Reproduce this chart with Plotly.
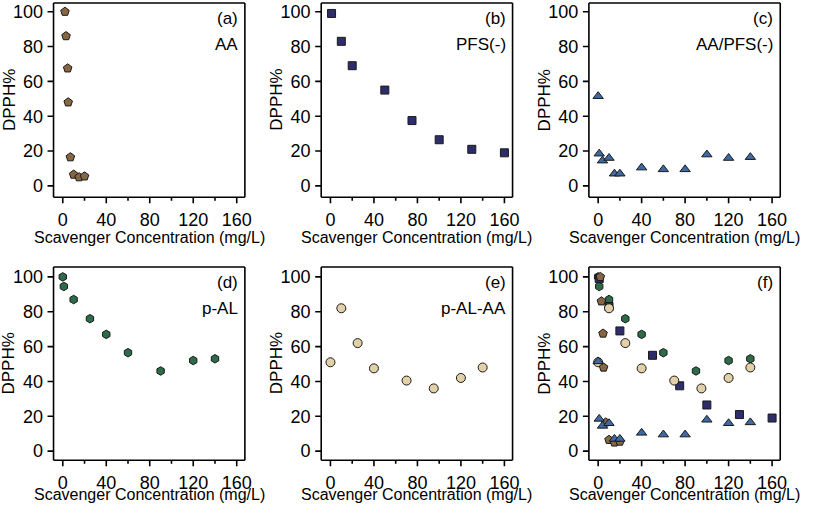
import plotly.graph_objects as go

# ---- data ----
aa_x = [2, 3, 4.5, 5, 7, 10, 15, 20]
aa_y = [100, 86, 67.5, 48, 16.5, 6.5, 5, 5.5]

pfs_x = [1, 10, 20, 50, 75, 100, 130, 160]
pfs_y = [99, 83, 69, 55, 37.5, 26.5, 21, 19]

aapfs_x = [0, 1, 4, 10, 15, 20, 40, 60, 80, 100, 120, 140]
aapfs_y = [51.5, 18.5, 14.5, 16, 7, 7, 10.5, 9.5, 9.5, 18, 16, 16.5]

pal_x = [0, 1, 10, 25, 40, 60, 90, 120, 140]
pal_y = [100, 94.5, 87, 76, 67, 56.5, 46, 52, 53]

palaa_x = [0, 10, 25, 40, 70, 95, 120, 140]
palaa_y = [51, 82, 62, 47.5, 40.5, 36, 42, 48]

panel_tags = ["(a)", "(b)", "(c)", "(d)", "(e)", "(f)"]
panel_names = ["AA", "PFS(-)", "AA/PFS(-)", "p-AL", "p-AL-AA", ""]
x_ticks = [0, 40, 80, 120, 160]
x_minor_ticks = [20, 60, 100, 140]
y_ticks = [0, 20, 40, 60, 80, 100]
x_title = "Scavenger Concentration (mg/L)"
y_title = "DPPH%"

FONT = "Arial, Liberation Sans, sans-serif"
W, H = 815, 513

styles = {
    "AA": dict(symbol="pentagon", color="#876642", size=9),
    "PFS": dict(symbol="square", color="#2E2D6B", size=8),
    "AAPFS": dict(symbol="triangle-up", color="#3F69A3", size=9),
    "PAL": dict(symbol="hexagon", color="#2E6B48", size=8.5),
    "PALAA": dict(symbol="circle", color="#E2D1A8", size=9),
}
series = {
    "AA": (aa_x, aa_y),
    "PFS": (pfs_x, pfs_y),
    "AAPFS": (aapfs_x, aapfs_y),
    "PAL": (pal_x, pal_y),
    "PALAA": (palaa_x, palaa_y),
}

cols = [(54, 247), (324, 517), (594, 787)]
rows = [(2, 197), (267, 461)]
yranges = [[-6.5, 105], [-5.2, 105.7]]
xrange_ = [-8.5, 167.5]
title_gap = [40, 34]

HW = 0.8          # half width (px) of frame/tick bars
TICK_MAJOR, TICK_MINOR = 6, 3.5
INK = "black"

fig = go.Figure()
panel_series = [["AA"], ["PFS"], ["AAPFS"], ["PAL"], ["PALAA"],
                ["PAL", "PFS", "PALAA", "AA", "AAPFS"]]

annotations, shapes = [], []

def bar(**kw):
    d = dict(type="rect", fillcolor=INK, line=dict(width=0), layer="above")
    d.update(kw)
    shapes.append(d)

for i in range(6):
    r, c = divmod(i, 3)
    idx = i + 1
    x0, x1 = cols[c]
    y0, y1 = rows[r]
    suffix = "" if idx == 1 else str(idx)
    xa, ya = "x" + suffix, "y" + suffix
    xd, yd = xa + " domain", ya + " domain"

    for key in panel_series[i]:
        x, y = series[key]
        s = styles[key]
        fig.add_trace(go.Scatter(
            x=x, y=y, mode="markers", xaxis=xa, yaxis=ya,
            marker=dict(symbol=s["symbol"], color=s["color"], size=s["size"],
                        line=dict(color="#1a1a1a", width=1)),
            showlegend=False, hoverinfo="skip"))

    fig.update_layout(**{
        "xaxis" + suffix: dict(
            domain=[x0 / W, x1 / W], range=xrange_, anchor=ya,
            tickmode="array", tickvals=x_ticks, ticks="outside", ticklen=6,
            tickcolor="rgba(0,0,0,0)", showline=False, showgrid=False,
            zeroline=False, tickfont=dict(family=FONT, size=18, color="black")),
        "yaxis" + suffix: dict(
            domain=[1 - y1 / H, 1 - y0 / H], range=yranges[r], anchor=xa,
            tickmode="array", tickvals=y_ticks, ticks="outside", ticklen=6,
            tickcolor="rgba(0,0,0,0)", showline=False, showgrid=False,
            zeroline=False, tickfont=dict(family=FONT, size=18, color="black")),
    })

    # frame as four filled bars
    for xv in (0, 1):
        bar(xref=xd, yref=yd, xsizemode="pixel", xanchor=xv,
            x0=-HW, x1=HW, y0=0, y1=1)
    for yv in (0, 1):
        bar(xref=xd, yref=yd, ysizemode="pixel", yanchor=yv,
            y0=-HW, y1=HW, x0=0, x1=1)
    # tick marks as filled bars
    for v in x_ticks:
        bar(xref=xa, yref=yd, xsizemode="pixel", xanchor=v, x0=-HW, x1=HW,
            ysizemode="pixel", yanchor=0, y0=0, y1=-TICK_MAJOR)
    for v in x_minor_ticks:
        bar(xref=xa, yref=yd, xsizemode="pixel", xanchor=v, x0=-HW, x1=HW,
            ysizemode="pixel", yanchor=0, y0=0, y1=-TICK_MINOR)
    for v in y_ticks:
        bar(xref=xd, yref=ya, ysizemode="pixel", yanchor=v, y0=-HW, y1=HW,
            xsizemode="pixel", xanchor=0, x0=0, x1=-TICK_MAJOR)

    annotations.append(dict(
        text=panel_tags[i], xref="paper", yref="paper",
        x=(x1 - 5) / W, y=1 - (y0 + 16) / H,
        xanchor="right", yanchor="middle", showarrow=False,
        font=dict(family=FONT, size=17, color="black")))
    if panel_names[i]:
        annotations.append(dict(
            text=panel_names[i], xref="paper", yref="paper",
            x=(x1 - 5) / W, y=1 - (y0 + 42) / H,
            xanchor="right", yanchor="middle", showarrow=False,
            font=dict(family=FONT, size=17, color="black")))
    annotations.append(dict(
        text=x_title, xref="paper", yref="paper",
        x=(x0 + x1) / 2 / W, y=1 - (y1 + title_gap[r]) / H,
        xanchor="center", yanchor="middle", showarrow=False,
        font=dict(family=FONT, size=16, color="black")))
    annotations.append(dict(
        text=y_title, xref="paper", yref="paper",
        x=(x0 - 45) / W, y=1 - (y0 + y1) / 2 / H, textangle=-90,
        xanchor="center", yanchor="middle", showarrow=False,
        font=dict(family=FONT, size=17, color="black")))

fig.update_layout(
    width=W, height=H, margin=dict(l=0, r=0, t=0, b=0),
    paper_bgcolor="white", plot_bgcolor="white",
    annotations=annotations, shapes=shapes, showlegend=False)

fig.write_html("out.html", config={"displayModeBar": False},
               post_script="document.body.style.margin='0';document.body.style.padding='0';")
